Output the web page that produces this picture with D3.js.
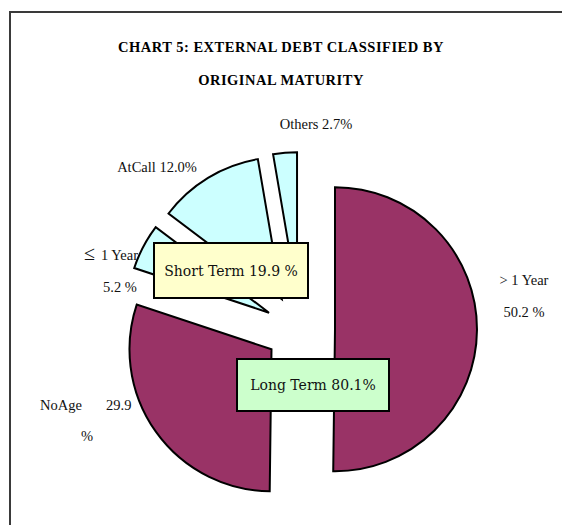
<!DOCTYPE html>
<html>
<head>
<meta charset="utf-8">
<script src="https://cdn.jsdelivr.net/npm/d3@7"></script>
<style>
  body { margin: 0; background: #fff; }
  svg { display: block; }
</style>
</head>
<body>
<script>
// data
var segments = ["> 1 Year", "NoAge", "\u2264", "AtCall", "Others"];
var shares = [50.2, 29.9, 5.2, 12.0, 2.7];
var terms = ["Long Term", "Long Term", "Short Term", "Short Term", "Short Term"];
var termNames = ["Short Term", "Long Term"];
var termTotals = [19.9, 80.1];
var titleLines = ["CHART 5: EXTERNAL DEBT CLASSIFIED BY", "ORIGINAL MATURITY"];

var width = 562, height = 525;
var cx = 300, cy = 329, radius = 142, explode = 35;

var svg = d3.select("body").append("svg")
    .attr("width", width)
    .attr("height", height);

// chart frame (only left and top edge are in view)
svg.append("path")
    .attr("d", "M10," + height + "V12H" + width)
    .attr("fill", "none")
    .attr("stroke", "#3a3a3a")
    .attr("stroke-width", 2);

svg.selectAll(".title").data(titleLines).enter()
    .append("text")
    .attr("class", "title")
    .attr("x", 281)
    .attr("y", function(d, i) { return 52 + i * 33; })
    .attr("text-anchor", "middle")
    .style("font-family", "'Liberation Serif', serif")
    .style("font-weight", "bold")
    .style("font-size", "14.5px")
    .style("letter-spacing", "0.5px")
    .text(function(d) { return d; });

var colour = d3.scaleOrdinal().domain(termNames).range(["#ccffff", "#993366"]);

var pie = d3.pie().sort(null).value(function(d) { return d; });
var arc = d3.arc().innerRadius(0).outerRadius(radius);
var slices = pie(shares);

// every slice pulled out along its own mid angle
function offset(d) {
    var a = (d.startAngle + d.endAngle) / 2;
    return [Math.sin(a) * explode, -Math.cos(a) * explode];
}

svg.append("g")
    .attr("transform", "translate(" + cx + "," + cy + ")")
    .selectAll("path").data(slices).enter()
    .append("path")
    .attr("d", arc)
    .attr("transform", function(d) { var o = offset(d); return "translate(" + o[0] + "," + o[1] + ")"; })
    .attr("fill", function(d, i) { return colour(terms[i]); })
    .attr("stroke", "#000")
    .attr("stroke-width", 2)
    .attr("stroke-linejoin", "miter");

// slice labels
var fmt = d3.format(".1f");
var labelFont = "'Liberation Serif', serif";

function addText(x, y, anchor, size, str) {
    return svg.append("text")
        .attr("x", x).attr("y", y)
        .attr("text-anchor", anchor)
        .style("font-family", labelFont)
        .style("font-size", size + "px")
        .style("fill", "#111")
        .text(str);
}

addText(524, 285, "middle", 14.5, segments[0]);
addText(524, 317, "middle", 14.5, fmt(shares[0]) + " %");

addText(40, 410, "start", 14.5, segments[1]);
addText(106, 410, "start", 14.5, fmt(shares[1]));
addText(87, 441, "middle", 14.5, "%");

addText(84, 260, "start", 20, segments[2]);
addText(101, 260, "start", 14.5, "1 Year");
addText(120, 292, "middle", 14.5, fmt(shares[2]) + " %");

addText(157, 172, "middle", 14.5, segments[3] + " " + fmt(shares[3]) + "%");
addText(316, 129, "middle", 14.5, segments[4] + " " + fmt(shares[4]) + "%");

// group boxes
var boxes = [
    { x: 154, y: 243, w: 154, h: 55, fill: "#ffffcc", text: termNames[0] + " " + fmt(termTotals[0]) + " %" },
    { x: 237, y: 359, w: 152, h: 52, fill: "#ccffcc", text: termNames[1] + " " + fmt(termTotals[1]) + "%" }
];

var box = svg.selectAll(".box").data(boxes).enter().append("g").attr("class", "box");
box.append("rect")
    .attr("x", function(d) { return d.x; })
    .attr("y", function(d) { return d.y; })
    .attr("width", function(d) { return d.w; })
    .attr("height", function(d) { return d.h; })
    .attr("fill", function(d) { return d.fill; })
    .attr("stroke", "#000")
    .attr("stroke-width", 2);
box.append("text")
    .attr("x", function(d) { return d.x + d.w / 2; })
    .attr("y", function(d) { return d.y + d.h / 2 + 5; })
    .attr("text-anchor", "middle")
    .style("font-family", "'DejaVu Serif', serif")
    .style("font-size", "14px")
    .style("fill", "#111")
    .text(function(d) { return d.text; });
</script>
</body>
</html>
